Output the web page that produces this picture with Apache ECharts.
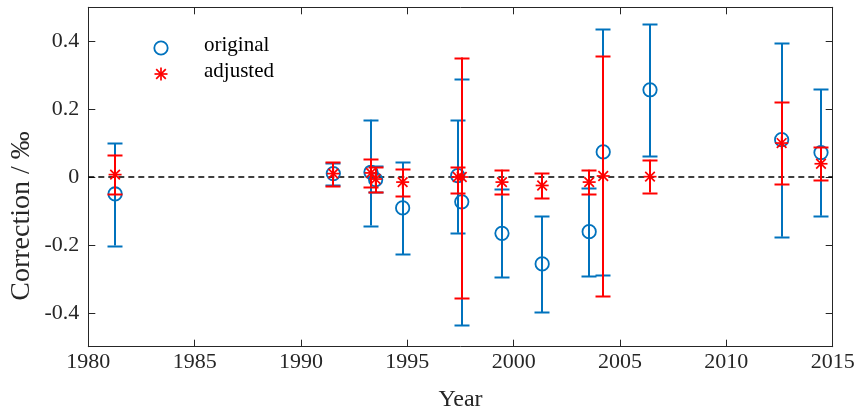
<!DOCTYPE html>
<html>
<head>
<meta charset="utf-8">
<script src="https://cdn.jsdelivr.net/npm/echarts@6/dist/echarts.min.js"></script>
<style>html,body{margin:0;padding:0;background:#fff}#c{width:858px;height:413px}</style>
</head>
<body>
<div id="c"></div>
<script>
// ---- data ----
const years = [1981.26, 1991.52, 1993.29, 1993.51, 1994.78, 1997.37, 1997.56, 1999.45, 2001.34, 2003.55, 2004.21, 2006.41, 2012.60, 2014.45];
const original     = [-0.050, 0.010, 0.014, -0.008, -0.091, 0.004, -0.073, -0.166, -0.256, -0.161, 0.074, 0.257, 0.110, 0.072];
const originalHigh = [ 0.100, 0.042, 0.169,  0.031,  0.044, 0.167,  0.288, -0.036, -0.115, -0.031, 0.435, 0.451, 0.394, 0.259];
const originalLow  = [-0.202,-0.024,-0.143, -0.043, -0.228,-0.164, -0.436, -0.296, -0.399, -0.292,-0.289, 0.062,-0.176,-0.114];
const adjusted     = [ 0.007, 0.010, 0.012, -0.006, -0.015, 0.000, 0.000, -0.015, -0.025, -0.015, 0.003, 0.001, 0.100, 0.039];
const adjustedHigh = [ 0.066, 0.044, 0.054,  0.028,  0.024, 0.028, 0.352,  0.021,  0.012,  0.021, 0.356, 0.051, 0.220, 0.087];
const adjustedLow  = [-0.050,-0.026,-0.028, -0.044, -0.055,-0.046,-0.356, -0.050, -0.062, -0.050,-0.351,-0.046,-0.021,-0.009];
const yTicks = [-0.4, -0.2, 0, 0.2, 0.4];
const xRange = [1980, 2015];
const yRange = [-0.5, 0.5];
const legendNames = ['original', 'adjusted'];
const xName = 'Year';
const yName = 'Correction / ‰';

const BLUE = '#0072BD', RED = '#FF0000', AX = '#262626';
const FONT = '"Liberation Serif","Times New Roman",serif';

function build(xs, v, lo, hi) { return xs.map((x, i) => [x, v[i], lo[i], hi[i]]); }

function starShape(cx, cy, color) {
  const r = 6.5, d = 4.8;
  const segs = [[-r,0,r,0],[0,-r,0,r],[-d,-d,d,d],[-d,d,d,-d]];
  return segs.map(s => ({type:'line', shape:{x1:cx+s[0],y1:cy+s[1],x2:cx+s[2],y2:cy+s[3]}, style:{stroke:color, lineWidth:1.7}}));
}

function makeRender(color, marker) {
  return function (params, api) {
    const x = api.value(0), y = api.value(1), lo = api.value(2), hi = api.value(3);
    const p = api.coord([x, y]), pl = api.coord([x, lo]), ph = api.coord([x, hi]);
    const bx = Math.round(p[0]);
    const yl = Math.round(pl[1]) + 0.5, yh = Math.round(ph[1]) + 0.5;
    const cw = 7.5, lw = 2;
    const ch = [
      {type:'line', shape:{x1:bx,y1:pl[1],x2:bx,y2:ph[1]}, style:{stroke:color,lineWidth:lw}},
      {type:'line', shape:{x1:bx-cw,y1:yl,x2:bx+cw,y2:yl}, style:{stroke:color,lineWidth:lw}},
      {type:'line', shape:{x1:bx-cw,y1:yh,x2:bx+cw,y2:yh}, style:{stroke:color,lineWidth:lw}}
    ];
    if (marker === 'circle') {
      ch.push({type:'circle', shape:{cx:p[0],cy:p[1],r:6.7}, style:{fill:'none',stroke:color,lineWidth:1.8}});
    } else {
      starShape(p[0], p[1], color).forEach(s => ch.push(s));
    }
    return {type:'group', children: ch};
  };
}

const chart = echarts.init(document.getElementById('c'), null, {renderer:'canvas'});
const axisCommon = {
  axisLine:{show:true, onZero:false, lineStyle:{color:AX, width:1}},
  axisTick:{show:true, inside:true, length:7, lineStyle:{color:AX, width:1}},
  splitLine:{show:false}
};
chart.setOption({
  animation:false,
  backgroundColor:'#fff',
  grid:{left:88.3, right:25.3, top:7.3, bottom:66.3, containLabel:false},
  xAxis:[
    Object.assign({type:'value', min:xRange[0], max:xRange[1], interval:5, position:'bottom',
      axisLabel:{show:true, margin:5, color:AX, fontFamily:FONT, fontSize:22, formatter:v => String(v)}}, axisCommon),
    Object.assign({type:'value', min:xRange[0], max:xRange[1], interval:5, position:'top',
      axisLabel:{show:false}}, axisCommon)
  ],
  yAxis:[
    Object.assign({type:'value', min:yRange[0], max:yRange[1], position:'left',
      axisLabel:{show:true, margin:9, color:AX, fontFamily:FONT, fontSize:22, customValues:yTicks,
        formatter:v => (Math.abs(v) < 1e-9 ? '0' : v.toFixed(1))}}, axisCommon,
      {axisTick:{show:true, inside:true, length:7, customValues:yTicks, lineStyle:{color:AX, width:1}}}),
    Object.assign({type:'value', min:yRange[0], max:yRange[1], position:'right',
      axisLabel:{show:false}}, axisCommon,
      {axisTick:{show:true, inside:true, length:7, customValues:yTicks, lineStyle:{color:AX, width:1}}})
  ],
  series:[
    {type:'line', data:[[xRange[0],0],[xRange[1],0]], symbol:'none', silent:true,
      lineStyle:{color:'#000', width:1.5, type:[6,4]}, z:1},
    {type:'custom', name:legendNames[0], renderItem:makeRender(BLUE,'circle'),
      data:build(years, original, originalLow, originalHigh), encode:{x:0, y:[1,2,3]}, z:2},
    {type:'custom', name:legendNames[1], renderItem:makeRender(RED,'star'),
      data:build(years, adjusted, adjustedLow, adjustedHigh), encode:{x:0, y:[1,2,3]}, z:3}
  ],
  graphic:[
    {type:'circle', shape:{cx:161, cy:48, r:6.7}, style:{fill:'none', stroke:BLUE, lineWidth:1.8}},
    {type:'text', left:204, top:35, style:{text:legendNames[0], font:'21px '+FONT, fill:'#000'}},
    {type:'group', children:starShape(161, 74, RED)},
    {type:'text', left:204, top:61, style:{text:legendNames[1], font:'21px '+FONT, fill:'#000'}},
    {type:'text', x:460.5, y:400, style:{text:xName, font:'24px '+FONT, fill:AX, align:'center', verticalAlign:'middle'}},
    {type:'text', x:22, y:216, rotation:Math.PI/2, style:{text:yName, font:'28px '+FONT, fill:AX, align:'center', verticalAlign:'middle'}}
  ]
});
</script>
</body>
</html>
